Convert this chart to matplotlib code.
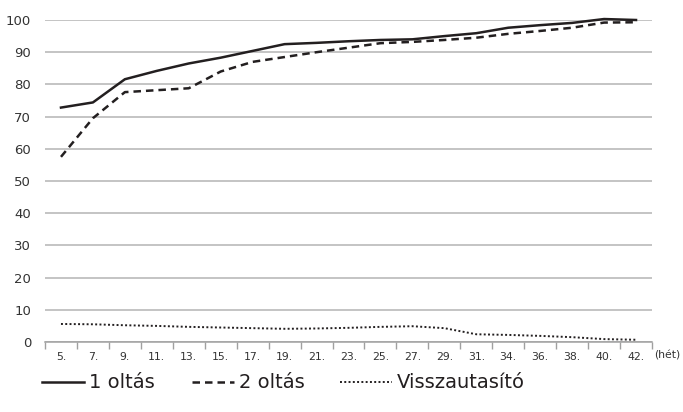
import matplotlib
matplotlib.use("Agg")
import matplotlib.pyplot as plt
import numpy as np

weeks = ["5.", "7.", "9.", "11.", "13.", "15.", "17.", "19.", "21.", "23.",
         "25.", "27.", "29.", "31.", "34.", "36.", "38.", "40.", "42."]
oltas1 = [72.8, 74.4, 81.6, 84.2, 86.5, 88.3, 90.4, 92.5, 92.9, 93.4,
          93.8, 94.0, 95.0, 95.9, 97.6, 98.4, 99.1, 100.3, 100.0]
oltas2 = [57.5, 69.5, 77.6, 78.2, 78.8, 84.0, 87.0, 88.5, 90.0, 91.4,
          92.8, 93.2, 93.8, 94.5, 95.7, 96.6, 97.6, 99.2, 99.3]
visszautasito = [5.6, 5.5, 5.2, 5.0, 4.7, 4.5, 4.3, 4.1, 4.2, 4.4,
                 4.7, 4.9, 4.3, 2.4, 2.2, 1.9, 1.5, 0.9, 0.7]
yticks = [0, 10, 20, 30, 40, 50, 60, 70, 80, 90, 100]

plt.rcParams['font.family'] = ['DejaVu Sans']

fig = plt.figure(figsize=(6.83, 4.12), dpi=100)
ax = fig.add_axes([45/683, 1-342/412, (652-45)/683, (342-20)/412])

x = np.arange(len(weeks))
col = '#231f20'
h1, = ax.plot(x, oltas1, color=col, lw=1.8, solid_joinstyle='round', clip_on=False, label='1 oltás', zorder=3)
h2, = ax.plot(x, oltas2, color=col, lw=1.8, linestyle=(0, (3, 2)), clip_on=False, label='2 oltás', zorder=3)
h3, = ax.plot(x, visszautasito, color=col, lw=1.4, linestyle=(0, (1, 1.2)), clip_on=False, label='Visszautasító', zorder=3)

ax.set_xlim(-0.5, len(weeks) - 0.5)
ax.set_ylim(0, 100)
ax.set_yticks(yticks)
ax.set_yticklabels([str(v) for v in yticks], fontsize=9.5, color='#333333')
ax.tick_params(axis='y', length=0, pad=10)
ax.yaxis.grid(True, color='#b4b4b4', lw=1.1)
ax.set_axisbelow(True)

ax.set_xticks(x)
ax.set_xticklabels(weeks, fontsize=7.8, color='#333333')
ax.set_xticks(np.arange(-0.5, len(weeks)), minor=True)
ax.tick_params(axis='x', which='major', length=0, pad=7)
ax.tick_params(axis='x', which='minor', length=5, color='#a0a0a0', width=1)

for s in ['top', 'right', 'left']:
    ax.spines[s].set_visible(False)
ax.spines['bottom'].set_color('#a0a0a0')
ax.spines['bottom'].set_linewidth(1.1)

fig.text(667/683, 1-355/412, "(hét)", fontsize=7.8, color='#333333', ha='center', va='center')

fs = 14
fspx = fs * 100 / 72
ly = 1 - 383/412
for h, lab, x0, hl in [(h1, '1 oltás', 42, 42), (h2, '2 oltás', 192, 42), (h3, 'Visszautasító', 340, 52)]:
    leg = fig.legend(handles=[h], labels=[lab], loc='center left', bbox_to_anchor=(x0/683, ly),
                     frameon=False, fontsize=fs, handlelength=hl/fspx, handletextpad=5/fspx,
                     borderpad=0, borderaxespad=0)
    for t in leg.get_texts():
        t.set_color('#231f20')

fig.savefig("out.png", dpi=100)
